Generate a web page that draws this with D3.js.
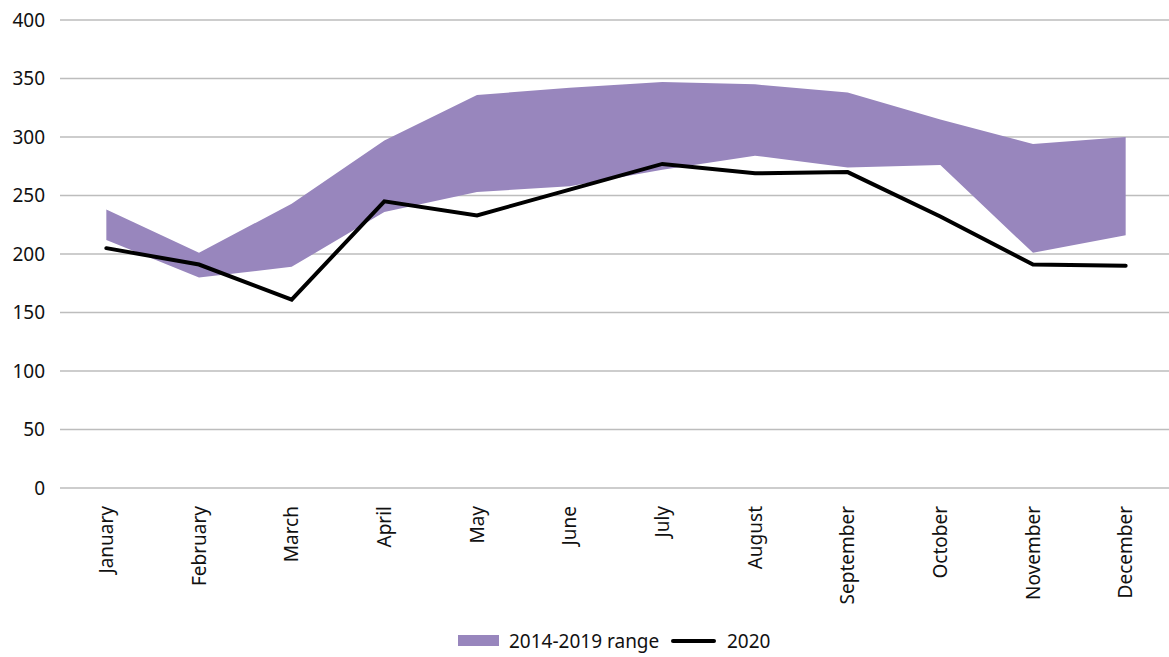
<!DOCTYPE html>
<html><head><meta charset="utf-8">
<script src="https://cdn.jsdelivr.net/npm/d3@7"></script>
<style>body{margin:0;background:#fff;} text{font-family:"Noto Sans","Open Sans",sans-serif;}</style>
</head><body><svg id="c" width="1169" height="657"></svg>
<script>
const months = ["January","February","March","April","May","June","July","August","September","October","November","December"];
const rangeLow  = [212,180,189,236,253,258,272,284,274,276,201,216];
const rangeHigh = [238,201,243,297,336,342,347,345,338,315,294,300];
const y2020     = [205,191,161,245,233,255,277,269,270,232,191,190];
const yTicks = [0,50,100,150,200,250,300,350,400];
const legendLabels = ["2014-2019 range","2020"];

const FS = 19;
const svg = d3.select("#c");
const x = d3.scaleBand().domain(months).range([60,1172]);
const y = d3.scaleLinear().domain([0,400]).range([488,20]);
const cx = m => x(m) + x.bandwidth()/2;

// grid
svg.append("g").selectAll("line").data(yTicks).join("line")
  .attr("x1",60).attr("x2",1169).attr("y1",d=>y(d)).attr("y2",d=>y(d))
  .attr("stroke","#bdbdbd").attr("stroke-width",1.5);
svg.append("g").selectAll("text").data(yTicks).join("text")
  .attr("x",45).attr("y",d=>y(d)).attr("dy","0.35em").attr("text-anchor","end")
  .attr("font-size",FS).attr("fill","#111").text(d=>d);

const data = months.map((m,i)=>({m,lo:rangeLow[i],hi:rangeHigh[i],v:y2020[i]}));
svg.append("path").datum(data)
  .attr("d", d3.area().x(d=>cx(d.m)).y0(d=>y(d.lo)).y1(d=>y(d.hi)))
  .attr("fill","#9886bd");
svg.append("path").datum(data)
  .attr("d", d3.line().x(d=>cx(d.m)).y(d=>y(d.v)))
  .attr("fill","none").attr("stroke","#000").attr("stroke-width",4)
  .attr("stroke-linejoin","miter").attr("stroke-linecap","round");

// x labels
svg.append("g").selectAll("text").data(months).join("text")
  .attr("transform",m=>`translate(${cx(m)},506) rotate(-90)`)
  .attr("text-anchor","end").attr("dy","0.35em")
  .attr("font-size",FS).attr("fill","#111").text(m=>m);

// legend
const lg = svg.append("g");
lg.append("rect").attr("x",458).attr("y",635).attr("width",41).attr("height",11).attr("fill","#9886bd");
lg.append("text").attr("x",509).attr("y",641).attr("dy","0.35em").attr("font-size",FS).attr("fill","#111").text(legendLabels[0]);
lg.append("line").attr("x1",673).attr("x2",714).attr("y1",641).attr("y2",641).attr("stroke","#000").attr("stroke-width",4).attr("stroke-linecap","round");
lg.append("text").attr("x",727).attr("y",641).attr("dy","0.35em").attr("font-size",FS).attr("fill","#111").text(legendLabels[1]);
</script></body></html>
